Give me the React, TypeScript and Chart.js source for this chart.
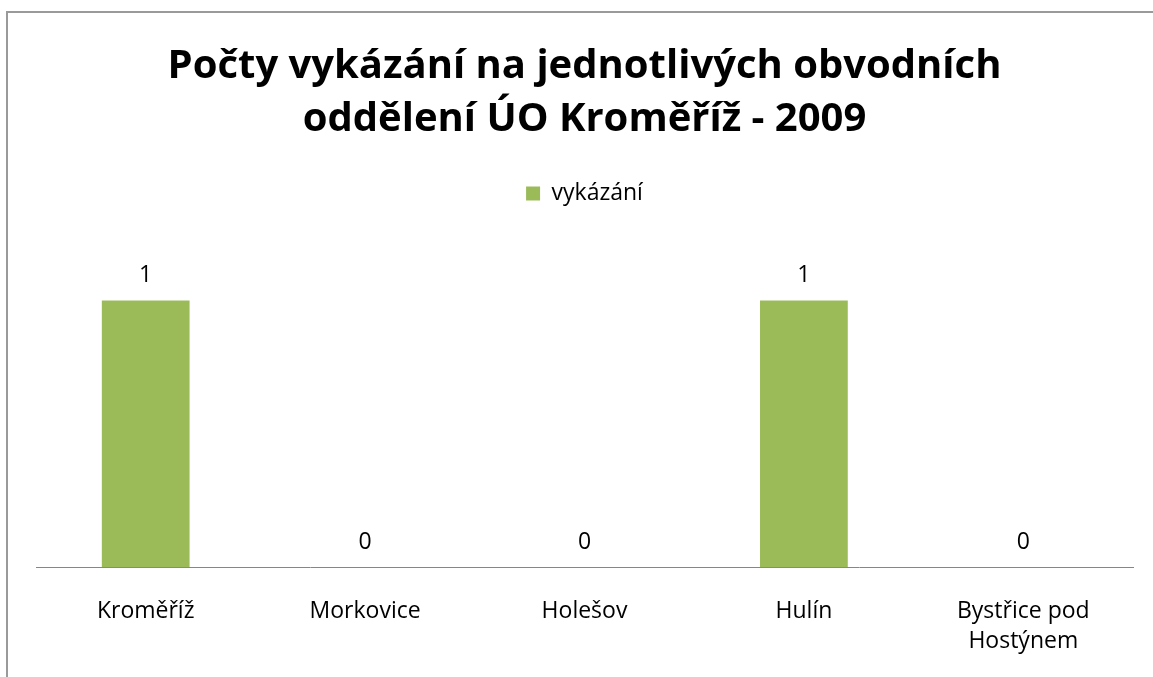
import React, { useEffect, useRef } from "react";
import { Chart, registerables } from "chart.js";

Chart.register(...registerables);

const categories: (string | string[])[] = [
  "Kroměříž",
  "Morkovice",
  "Holešov",
  "Hulín",
  ["Bystřice pod", "Hostýnem"],
];
const seriesLabel = "vykázání";
const seriesValues = [1, 0, 0, 1, 0];
const titleLines = ["Počty vykázání na jednotlivých obvodních", "oddělení ÚO Kroměříž - 2009"];

const FONT = "'Open Sans', sans-serif";

const dataLabelPlugin = {
  id: "dataLabels",
  afterDatasetsDraw(chart: any) {
    const ctx = chart.ctx;
    ctx.save();
    ctx.font = `23px ${FONT}`;
    ctx.fillStyle = "#000";
    ctx.textAlign = "center";
    ctx.textBaseline = "middle";
    chart.data.datasets.forEach((ds: any, i: number) => {
      const meta = chart.getDatasetMeta(i);
      meta.data.forEach((bar: any, j: number) => {
        ctx.fillText(String(ds.data[j]), bar.x, bar.y - 25);
      });
    });
    ctx.restore();
  },
};

export default function App() {
  const ref = useRef<HTMLCanvasElement | null>(null);
  useEffect(() => {
    if (!ref.current) return;
    const chart = new Chart(ref.current, {
      type: "bar",
      data: {
        labels: categories,
        datasets: [
          {
            label: seriesLabel,
            data: seriesValues,
            backgroundColor: "#9bbb59",
            borderWidth: 0,
            barPercentage: 0.4,
            categoryPercentage: 1,
          },
        ],
      },
      options: {
        animation: false,
        responsive: false,
        maintainAspectRatio: false,
        layout: { padding: { left: 36, right: 20, top: 0, bottom: 0 } },
        plugins: {
          title: {
            display: true,
            text: titleLines,
            color: "#000",
            font: { family: FONT, size: 40, weight: "bold", lineHeight: 1.325 },
            padding: { top: 40, bottom: 26 },
          },
          legend: {
            display: true,
            position: "top",
            labels: {
              color: "#000",
              font: { family: FONT, size: 23 },
              boxWidth: 14,
              boxHeight: 14,
              padding: 10,
            },
          },
          tooltip: { enabled: false },
        },
        scales: {
          x: {
            grid: { display: false },
            border: { display: true, color: "#868686", width: 1 },
            ticks: {
              color: "#000",
              font: { family: FONT, size: 23, lineHeight: 1.3 },
              padding: 21,
              maxRotation: 0,
              autoSkip: false,
            },
          },
          y: {
            display: false,
            min: 0,
            max: 1.32,
          },
        },
      },
      plugins: [dataLabelPlugin],
    });
    return () => chart.destroy();
  }, []);

  return (
    <div style={{ position: "fixed", left: 0, top: 0, width: 1153, height: 677, overflow: "hidden", background: "#fff" }}>
      <div
        style={{
          position: "absolute",
          left: 6,
          top: 11,
          width: 1300,
          height: 900,
          border: "2px solid #9a9a9a",
          boxSizing: "border-box",
        }}
      />
      <canvas ref={ref} width={1153} height={677} style={{ position: "absolute", left: 0, top: 0, width: 1153, height: 677 }} />
    </div>
  );
}
